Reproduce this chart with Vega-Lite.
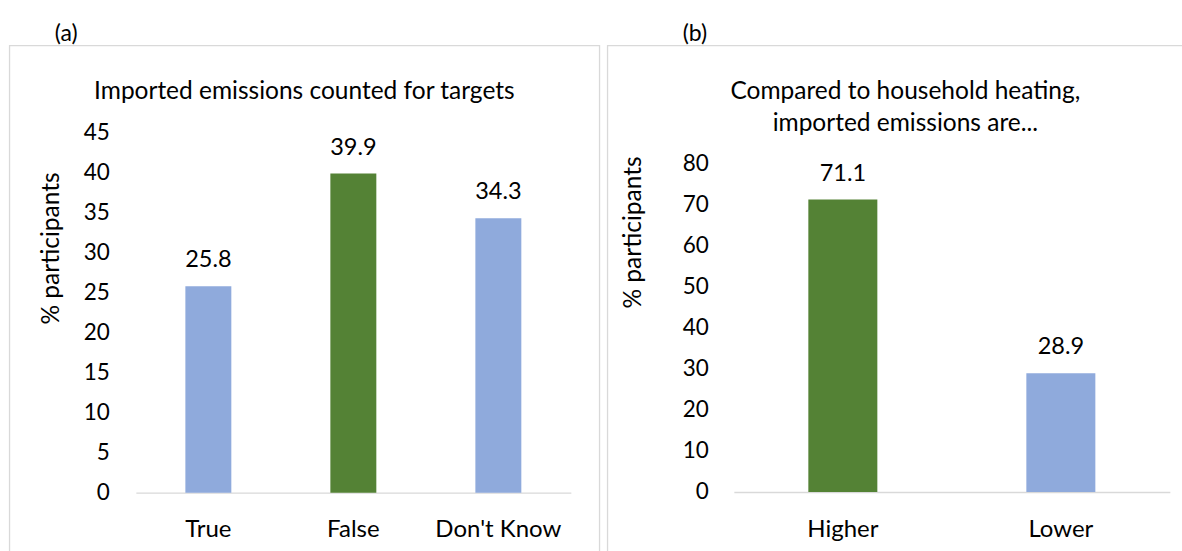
{
  "$schema": "https://vega.github.io/schema/vega-lite/v6.json",
  "autosize": "pad",
  "padding": {"left": 8.35, "top": 22.5, "right": 0, "bottom": 0},
  "background": "white",
  "config": {
    "font": "Lato",
    "view": {"stroke": "#D9D9D9", "strokeWidth": 1.3},
    "axis": {"labelColor": "#000000", "titleColor": "#000000", "labelFontSize": 22.5, "titleFontSize": 24.5, "titleFontWeight": "normal", "grid": false},
    "title": {"color": "#000000", "fontSize": 24.5, "fontWeight": "normal"}
  },
  "datasets": {
    "a": [
      {"category": "True", "value": 25.8, "correct": "no"},
      {"category": "False", "value": 39.9, "correct": "yes"},
      {"category": "Don't Know", "value": 34.3, "correct": "no"}
    ],
    "b": [
      {"category": "Higher", "value": 71.1, "correct": "yes"},
      {"category": "Lower", "value": 28.9, "correct": "no"}
    ]
  },
  "spacing": 6,
  "hconcat": [
    {
      "title": {"text": "(a)", "anchor": "start", "dx": 46, "offset": -19, "baseline": "alphabetic", "fontSize": 23},
      "vconcat": [
        {
          "width": 590,
          "height": 520,
          "title": {"text": "Imported emissions counted for targets", "anchor": "middle", "offset": -78, "baseline": "alphabetic"},
          "data": {"name": "a"},
          "encoding": {
            "x": {"field": "category", "type": "nominal", "sort": null,
              "scale": {"range": [126.5, 561.5], "paddingInner": 0.683, "paddingOuter": 0.3415},
              "axis": {"title": null, "orient": "bottom", "offset": -72.8, "domain": true, "domainColor": "#D9D9D9", "domainWidth": 1.3, "ticks": false, "tickSize": 0, "labelPadding": 44, "labelBaseline": "alphabetic", "labelAngle": 0, "labelFontSize": 24}},
            "y": {"field": "value", "type": "quantitative",
              "scale": {"domain": [0, 45], "range": [447.2, 87.2], "nice": false, "zero": false},
              "axis": {"title": "% participants", "orient": "left", "offset": -100, "domain": false, "ticks": false, "tickSize": 0, "labelPadding": 0, "values": [0, 5, 10, 15, 20, 25, 30, 35, 40, 45], "titleAngle": -90, "titleX": -57.5, "titleY": 202.5, "titleAlign": "center", "titleBaseline": "middle"}}
          },
          "layer": [
            {"mark": {"type": "bar"},
             "encoding": {"color": {"field": "correct", "type": "nominal", "scale": {"domain": ["no", "yes"], "range": ["#8FAADC", "#548235"]}, "legend": null}}},
            {"mark": {"type": "text", "dy": -19, "baseline": "alphabetic", "fontSize": 23.5, "color": "#000000"},
             "encoding": {"text": {"field": "value", "type": "quantitative", "format": ".1f"}}}
          ]
        }
      ]
    },
    {
      "title": {"text": "(b)", "anchor": "start", "dx": 76, "offset": -19, "baseline": "alphabetic", "fontSize": 23},
      "vconcat": [
        {
          "width": 596,
          "height": 520,
          "title": {"text": ["Compared to household heating,", "imported emissions are..."], "anchor": "middle", "offset": -110, "baseline": "alphabetic", "lineHeight": 32},
          "data": {"name": "b"},
          "encoding": {
            "x": {"field": "category", "type": "nominal", "sort": null,
              "scale": {"range": [126.5, 562.5], "paddingInner": 0.6835, "paddingOuter": 0.3417},
              "axis": {"title": null, "orient": "bottom", "offset": -73.5, "domain": true, "domainColor": "#D9D9D9", "domainWidth": 1.3, "ticks": false, "tickSize": 0, "labelPadding": 44.5, "labelBaseline": "alphabetic", "labelAngle": 0, "labelFontSize": 24}},
            "y": {"field": "value", "type": "quantitative",
              "scale": {"domain": [0, 80], "range": [446.5, 117.5], "nice": false, "zero": false},
              "axis": {"title": "% participants", "orient": "left", "offset": -101, "domain": false, "ticks": false, "tickSize": 0, "labelPadding": 0, "values": [0, 10, 20, 30, 40, 50, 60, 70, 80], "titleAngle": -90, "titleX": -74.5, "titleY": 186.5, "titleAlign": "center", "titleBaseline": "middle"}}
          },
          "layer": [
            {"mark": {"type": "bar"},
             "encoding": {"color": {"field": "correct", "type": "nominal", "scale": {"domain": ["no", "yes"], "range": ["#8FAADC", "#548235"]}, "legend": null}}},
            {"mark": {"type": "text", "dy": -19, "baseline": "alphabetic", "fontSize": 23.5, "color": "#000000"},
             "encoding": {"text": {"field": "value", "type": "quantitative", "format": ".1f"}}}
          ]
        }
      ]
    }
  ]
}
